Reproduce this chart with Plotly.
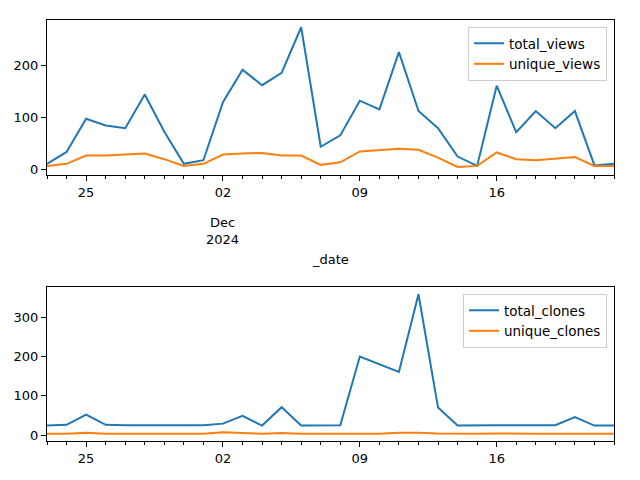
import plotly.graph_objects as go
import pandas as pd

dates = [d.strftime("%Y-%m-%d") for d in pd.date_range("2024-11-23", "2024-12-22", freq="D")]

total_views = [10, 33, 97, 84, 79, 144, 72, 10, 17, 129, 192, 162, 186, 274, 43, 65,
               132, 115, 226, 112, 79, 24, 6, 161, 71, 112, 79, 112, 7, 10]
unique_views = [6, 10, 26, 26, 28, 30, 19, 6, 10, 28, 30, 31, 26, 26, 8, 13,
                34, 37, 39, 37, 22, 4, 6, 32, 19, 17, 20, 23, 6, 6]
total_clones = [24, 26, 52, 26, 25, 25, 24, 24, 25, 29, 49, 24, 71, 24, 24, 25,
                200, 181, 161, 359, 70, 24, 25, 25, 25, 25, 25, 46, 24, 24]
unique_clones = [3, 3, 6, 3, 3, 3, 3, 3, 3, 7, 5, 3, 5, 3, 3, 3,
                 3, 3, 6, 6, 4, 3, 3, 4, 3, 3, 3, 3, 3, 3]

major_tick_dates = ["2024-11-25", "2024-12-02", "2024-12-09", "2024-12-16"]
major_tick_labels = ["25", "02", "09", "16"]
views_yticks = [0, 100, 200]
clones_yticks = [0, 100, 200, 300]

BLUE = "#1f77b4"
ORANGE = "#ff7f0e"
FONT = dict(family="DejaVu Sans", size=13, color="black")
LFONT = dict(family="DejaVu Sans", size=13.5, color="black")

# page has an 8px body margin; figure placed at (8, 8)
OFF = 8
W, H = 640 - OFF, 480 - OFF


def px_x(x):
    return (x - OFF) / W


def px_y(y):
    return 1 - (y - OFF) / H


fig = go.Figure()
fig.add_trace(go.Scatter(x=dates, y=total_views, mode="lines", name="total_views",
                         line=dict(color=BLUE, width=2), xaxis="x", yaxis="y", legend="legend"))
fig.add_trace(go.Scatter(x=dates, y=unique_views, mode="lines", name="unique_views",
                         line=dict(color=ORANGE, width=2), xaxis="x", yaxis="y", legend="legend"))
fig.add_trace(go.Scatter(x=dates, y=total_clones, mode="lines", name="total_clones",
                         line=dict(color=BLUE, width=2), xaxis="x2", yaxis="y2", legend="legend2"))
fig.add_trace(go.Scatter(x=dates, y=unique_clones, mode="lines", name="unique_clones",
                         line=dict(color=ORANGE, width=2), xaxis="x2", yaxis="y2", legend="legend2"))

xdom = [px_x(47), px_x(614)]
common_x = dict(
    type="date", range=[dates[0], dates[-1]], tickvals=major_tick_dates, ticktext=major_tick_labels,
    ticks="outside", ticklen=5, tickwidth=1, tickcolor="black",
    minor=dict(ticks="outside", ticklen=3, tickwidth=1, tickcolor="black",
               dtick=86400000, tick0=dates[0], showgrid=False),
    showline=True, linecolor="black", linewidth=1, mirror=True, showgrid=False,
    zeroline=False, tickfont=FONT, domain=xdom, automargin=False,
)
common_y = dict(
    ticks="outside", ticklen=5, tickwidth=1, tickcolor="black",
    showline=True, linecolor="black", linewidth=1, mirror=True, showgrid=False,
    zeroline=False, tickfont=FONT, automargin=False,
)

fig.update_layout(
    width=W, height=H,
    margin=dict(l=0, r=0, t=0, b=0, autoexpand=False),
    paper_bgcolor="white", plot_bgcolor="white",
    font=FONT,
    xaxis=dict(**common_x, anchor="y"),
    yaxis=dict(**common_y, domain=[px_y(175), px_y(20)], range=[-11.6, 288],
               tickvals=views_yticks, anchor="x"),
    xaxis2=dict(**common_x, anchor="y2"),
    yaxis2=dict(**common_y, domain=[px_y(441), px_y(287)], range=[-15.3, 377.5],
                tickvals=clones_yticks, anchor="x2"),
    legend=dict(x=px_x(607), y=px_y(27), xanchor="right", yanchor="top",
                bgcolor="rgba(255,255,255,0.8)", bordercolor="#cccccc", borderwidth=1,
                font=LFONT, tracegroupgap=0),
    legend2=dict(x=px_x(607), y=px_y(294), xanchor="right", yanchor="top",
                 bgcolor="rgba(255,255,255,0.8)", bordercolor="#cccccc", borderwidth=1,
                 font=LFONT, tracegroupgap=0),
    annotations=[
        dict(text="Dec<br>2024", x="2024-12-02", xref="x", y=px_y(231), yref="paper",
             showarrow=False, xanchor="center", yanchor="middle", font=FONT),
        dict(text="_date", x=(xdom[0] + xdom[1]) / 2, xref="paper", y=px_y(259), yref="paper",
             showarrow=False, xanchor="center", yanchor="middle", font=FONT),
    ],
)

fig.write_html("out.html")
